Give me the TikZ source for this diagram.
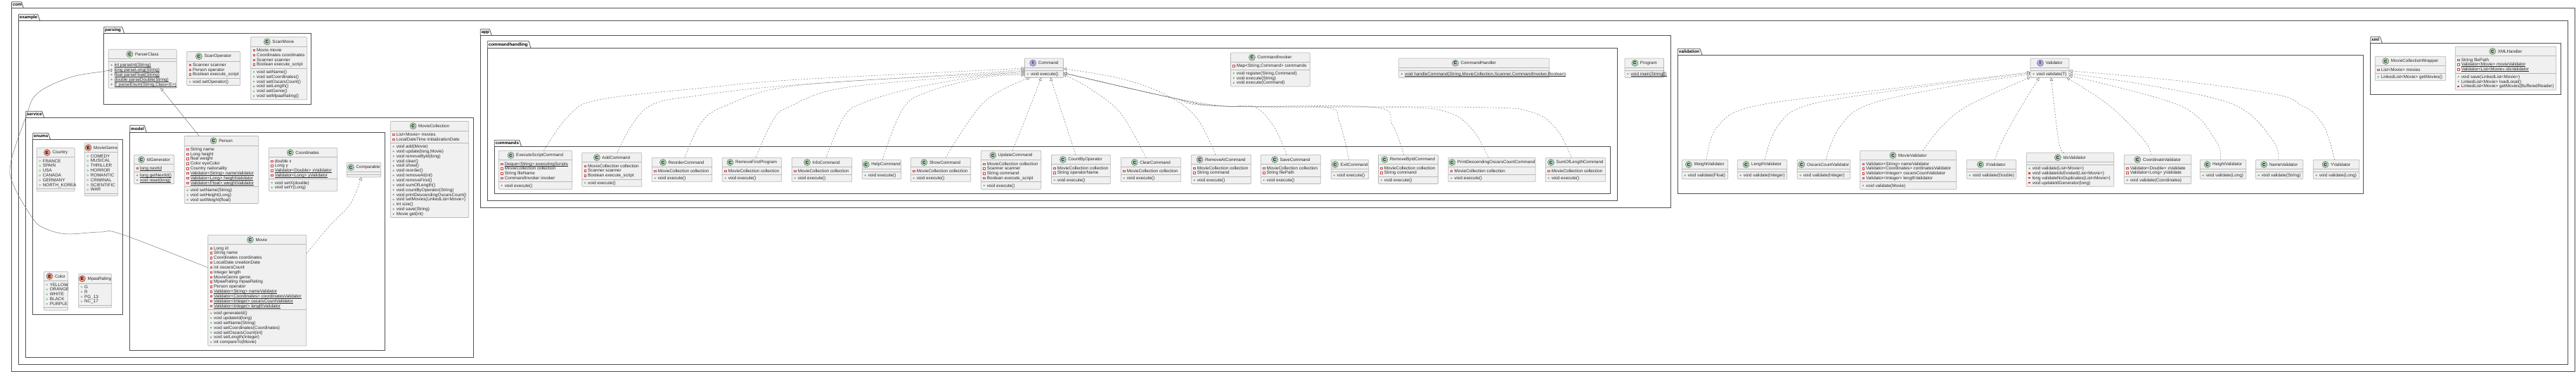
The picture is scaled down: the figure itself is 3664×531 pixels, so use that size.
\documentclass[tikz,border=0pt]{standalone}
\usepackage{fontspec}
\setmainfont{Liberation Sans}
\usetikzlibrary{arrows.meta}
\definecolor{iconC}{HTML}{ADD1B2}
\definecolor{iconE}{HTML}{EB937F}
\definecolor{iconI}{HTML}{B4A7E5}
\definecolor{txt}{HTML}{2A2A2A}
\newcommand\rowfont{\fontsize{6.3}{7}\selectfont}
\newcommand\titlefont{\fontsize{6.2}{7}\selectfont}
\tikzset{
 classbox/.style={draw=black!28,fill=black!6,rounded corners=1pt,line width=.7pt,inner sep=0,outer sep=0},
 classsep/.style={draw=black!28,line width=.6pt},
 rowtext/.style={inner sep=0,outer sep=0,text=txt,font=\rowfont},
 titletext/.style={inner sep=0,outer sep=0,text=txt,font=\titlefont},
 iconbase/.style={circle,draw=black!65,line width=.35pt,minimum size=9.2pt,inner sep=0,outer sep=0,text=black,font=\fontsize{6}{6}\selectfont\bfseries},
 fsq/.style={draw=red!70!black!70,line width=.4pt,fill=white},
 psq/.style={fill=red!80!black!75},
 mdot/.style={fill=green!45!black!55},
 edot/.style={draw=green!45!black!60,line width=.35pt,fill=white},
 pkgbody/.style={draw=black!68,line width=.8pt,inner sep=0,outer sep=0},
 pkgline/.style={draw=black!68,line width=.8pt,rounded corners=.8pt},
 pkglabel/.style={inner sep=0,outer sep=0,text=black,font=\fontsize{6.3}{7}\selectfont\bfseries},
 impl/.style={draw=black!52,line width=.5pt,dash pattern=on 2pt off 2pt,-{Triangle[length=4.5pt,width=4.6pt,fill=white]}},
 ext/.style={draw=black!52,line width=.5pt,-{Triangle[length=4.5pt,width=4.6pt,fill=white]}}
}
\newcount\rowcnt
\newcount\nrows
\newbox\ulbox
\newcommand\ulx[1]{\setbox\ulbox=\hbox{#1}\rlap{\raisebox{-.85pt}{\rule{\wd\ulbox}{.35pt}}}\box\ulbox}
\newcommand\cntItem[1]{\advance\nrows by 1\relax}
\newcommand\rowNode[1]{\global\advance\rowcnt by 1\relax
 \node[rowtext,anchor=base west] (row\the\rowcnt) at (\xTx,\rowpos+2.1) {#1};
 \pgfmathsetmacro\rowpos{\rowpos+6.85}}
\newcommand\drawF[1]{\draw[fsq] (\xIc,\rowpos) +(-1.2,-1.2) rectangle +(1.2,1.2); \rowNode{#1}}
\newcommand\drawFu[1]{\draw[fsq] (\xIc,\rowpos) +(-1.2,-1.2) rectangle +(1.2,1.2); \rowNode{\ulx{#1}}}
\newcommand\drawM[1]{\fill[mdot] (\xIc,\rowpos) circle[radius=1.3pt]; \rowNode{#1}}
\newcommand\drawMu[1]{\fill[mdot] (\xIc,\rowpos) circle[radius=1.3pt]; \rowNode{\ulx{#1}}}
\newcommand\drawPm[1]{\fill[psq] (\xIc,\rowpos) +(-1.4,-1.2) rectangle +(1.4,1.2); \rowNode{#1}}
\newcommand\drawEn[1]{\draw[edot] (\xIc,\rowpos) circle[radius=1.1pt]; \rowNode{#1}}
% name, kind, x1, y1, x2, title, fields, methods
\newcommand\umlclass[8]{%
 \begingroup
 \let\F\cntItem\let\Fu\cntItem\let\M\cntItem\let\Mu\cntItem\let\Pm\cntItem\let\En\cntItem
 \nrows=0 #7\relax
 \pgfmathsetmacro\hF{3.6+6.85*\the\nrows}%
 \nrows=0 #8\relax
 \pgfmathsetmacro\hM{3.6+6.85*\the\nrows}%
 \pgfmathsetmacro\wB{#5-#3}%
 \pgfmathsetmacro\hB{13.4+\hF+\hM}%
 \node[classbox,minimum width=\wB pt,minimum height=\hB pt,anchor=north west] (#1) at (#3,#4) {};
 \pgfmathsetmacro\yA{#4+13.4}%
 \pgfmathsetmacro\yB{\yA+\hF}%
 \draw[classsep] (#3,\yA) -- (#5,\yA);
 \draw[classsep] (#3,\yB) -- (#5,\yB);
 \node[titletext,anchor=center] (#1-title) at ({(#3+#5)/2+6.1},#4+6.7) {#6};
 \node[iconbase,fill=icon#2,anchor=east] (#1-icon) at ([xshift=-3pt]#1-title.west) {#2};
 \pgfmathsetmacro\xIc{#3+4.4}%
 \pgfmathsetmacro\xTx{#3+8.5}%
 \let\F\drawF\let\Fu\drawFu\let\M\drawM\let\Mu\drawMu\let\Pm\drawPm\let\En\drawEn
 \pgfmathsetmacro\rowpos{\yA+1.8+3.425}%
 #7\relax
 \pgfmathsetmacro\rowpos{\yB+1.8+3.425}%
 #8\relax
 \endgroup
}
% id, x1, tabtop, top, tabright, x2, y2, label
\newcommand\umlpkg[8]{%
 \begingroup
 \pgfmathsetmacro\wB{#6-#2}%
 \pgfmathsetmacro\hB{#7-#4}%
 \node[pkgbody,minimum width=\wB pt,minimum height=\hB pt,anchor=north west] (#1) at (#2,#4) {};
 \draw[pkgline] (#1.north west) -- (#2,#3) -- (#5-3,#3) -- (#5,#4);
 \node[pkglabel,anchor=base west] (#1-tab) at (#2+1.5,#4-2.9) {#8};
 \endgroup
}
\begin{document}
\begin{tikzpicture}[x=1pt,y=-1pt]
\useasboundingbox (0,0) rectangle (3664,531);
% packages
\umlpkg{pcom}{16.5}{2.7}{11.7}{33.5}{3662.7}{528.3}{com}
\umlpkg{pexample}{26.4}{20.3}{29.3}{56.7}{3652.3}{518.3}{example}
\umlpkg{pparsing}{147.7}{38.3}{47.3}{176.7}{442.3}{148.3}{parsing}
\umlpkg{pservice}{36.7}{158.3}{167.3}{62.7}{673.3}{508.3}{service}
\umlpkg{penums}{46.7}{189.3}{198.7}{71.7}{174.3}{447.3}{enums}
\umlpkg{pmodel}{184.7}{178.3}{188.3}{208.3}{547.3}{498.3}{model}
\umlpkg{papp}{683.3}{41.3}{50.3}{699.3}{2376.7}{295.3}{app}
\umlpkg{phandling}{693.3}{58.3}{68.3}{755}{2300.7}{285.3}{commandhandling}
\umlpkg{pcommands}{703.3}{199.3}{208.7}{741.7}{2290.7}{275.3}{commands}
\umlpkg{pvalidation}{2386.3}{69.3}{78.3}{2421}{3361.7}{275.3}{validation}
\umlpkg{pxml}{3371.7}{52.3}{61.3}{3388.3}{3642.3}{134.3}{xml}
% parsing
\umlclass{ParserClass}{C}{154.3}{70.3}{251.3}{ParserClass}{}{\Mu{int parseInt(String)}\Mu{long parseLong(String)}\Mu{float parseFloat(String)}\Mu{double parseDouble(String)}\Mu{E parseEnum(String,Class<E>)}}
\umlclass{ScanOperator}{C}{265.7}{73.5}{341.7}{ScanOperator}{\F{Scanner scanner}\F{Person operator}\F{Boolean execute\_script}}{\M{void setOperator()}}
\umlclass{ScanMovie}{C}{356.7}{52.7}{436.7}{ScanMovie}{\F{Movie movie}\F{Coordinates coordinates}\F{Scanner scanner}\F{Boolean execute\_script}}{\M{void setName()}\M{void setCoordinates()}\M{void setOscarsCount()}\M{void setLength()}\M{void setGenre()}\M{void setMpaaRating()}}
% enums
\umlclass{Country}{E}{52.3}{210.3}{106.3}{Country}{\En{FRANCE}\En{SPAIN}\En{USA}\En{CANADA}\En{GERMANY}\En{NORTH\_KOREA}}{}
\umlclass{MovieGenre}{E}{120.3}{203.3}{167.7}{MovieGenre}{\En{COMEDY}\En{MUSICAL}\En{THRILLER}\En{HORROR}\En{ROMANTIC}\En{CRIMINAL}\En{SCIENTIFIC}\En{WAR}}{}
\umlclass{Color}{E}{62.3}{386.3}{96.7}{Color}{\En{YELLOW}\En{ORANGE}\En{WHITE}\En{BLACK}\En{PURPLE}}{}
\umlclass{MpaaRating}{E}{111.7}{389.7}{158.7}{MpaaRating}{\En{G}\En{R}\En{PG\_13}\En{NC\_17}}{}
% model
\umlclass{IdGenerator}{C}{190.7}{220.3}{247.7}{IdGenerator}{\Fu{long nextId}}{\Mu{long getNextId()}\Mu{void reset(long)}}
\umlclass{Person}{C}{262.3}{193.5}{367.7}{Person}{\F{String name}\F{Long height}\F{float weight}\F{Color eyeColor}\F{Country nationality}\Fu{Validator<String> nameValidator}\Fu{Validator<Long> heightValidator}\Fu{Validator<Float> weightValidator}}{\M{void setName(String)}\M{void setHeight(Long)}\M{void setWeight(float)}}
\umlclass{Coordinates}{C}{382.3}{210.3}{479.7}{Coordinates}{\F{double x}\F{Long y}\Fu{Validator<Double> xValidator}\Fu{Validator<Long> yValidator}}{\M{void setX(double)}\M{void setY(Long)}}
\umlclass{Comparable}{C}{493.3}{231.3}{541.7}{Comparable}{}{}
\umlclass{Movie}{C}{295.7}{334.3}{435.7}{Movie}{\F{Long id}\F{String name}\F{Coordinates coordinates}\F{LocalDate creationDate}\F{int oscarsCount}\F{Integer length}\F{MovieGenre genre}\F{MpaaRating mpaaRating}\F{Person operator}\Fu{Validator<String> nameValidator}\Fu{Validator<Coordinates> coordinatesValidator}\Fu{Validator<Integer> oscarsCountValidator}\Fu{Validator<Integer> lengthValidator}}{\M{void generateId()}\M{void updateId(long)}\M{void setName(String)}\M{void setCoordinates(Coordinates)}\M{void setOscarsCount(int)}\M{void setLength(Integer)}\M{int compareTo(Movie)}}
\umlclass{MovieCollection}{C}{555.3}{172.5}{666.7}{MovieCollection}{\F{List<Movie> movies}\F{LocalDateTime initializationDate}}{\M{void add(Movie)}\M{void update(long,Movie)}\M{void removeById(long)}\M{void clear()}\M{void show()}\M{void reorder()}\M{void removeAt(int)}\M{void removeFirst()}\M{void sumOfLength()}\M{void countByOperator(String)}\M{void printDescendingOscarsCount()}\M{void setMovies(LinkedList<Movie>)}\M{int size()}\M{void save(String)}\M{Movie get(int)}}
% commandhandling
\umlclass{Command}{I}{1457.5}{83}{1512.5}{Command}{}{\M{void execute()}}
\umlclass{CommandInvoker}{C}{1750.4}{75}{1863.2}{CommandInvoker}{\F{Map<String,Command> commands}}{\M{void register(String,Command)}\M{void execute(String)}\M{void execute(Command)}}
\umlclass{CommandHandler}{C}{1989.6}{83}{2203.6}{CommandHandler}{}{\Mu{void handleCommand(String,MovieCollection,Scanner,CommandInvoker,Boolean)}}
\umlclass{Program}{C}{2311}{83}{2366.5}{Program}{}{\Mu{void main(String[])}}
% commands
\umlclass{ExecuteScriptCommand}{C}{709.3}{214.3}{813.7}{ExecuteScriptCommand}{\Fu{Deque<String> executingScripts}\F{MovieCollection collection}\F{String fileName}\F{CommandInvoker invoker}}{\M{void execute()}}
\umlclass{AddCommand}{C}{827.7}{217.3}{912.7}{AddCommand}{\F{MovieCollection collection}\F{Scanner scanner}\F{Boolean execute\_script}}{\M{void execute()}}
\umlclass{ReorderCommand}{C}{927.3}{224.3}{1012.7}{ReorderCommand}{\F{MovieCollection collection}}{\M{void execute()}}
\umlclass{RemoveFirstProgram}{C}{1027.3}{224.3}{1111.7}{RemoveFirstProgram}{\F{MovieCollection collection}}{\M{void execute()}}
\umlclass{InfoCommand}{C}{1126.3}{224.3}{1211.7}{InfoCommand}{\F{MovieCollection collection}}{\M{void execute()}}
\umlclass{HelpCommand}{C}{1226.3}{227.3}{1281.7}{HelpCommand}{}{\M{void execute()}}
\umlclass{ShowCommand}{C}{1295.3}{224.3}{1380.7}{ShowCommand}{\F{MovieCollection collection}}{\M{void execute()}}
\umlclass{UpdateCommand}{C}{1395.3}{214.3}{1480.7}{UpdateCommand}{\F{MovieCollection collection}\F{Scanner scanner}\F{String command}\F{Boolean execute\_script}}{\M{void execute()}}
\umlclass{CountByOperator}{C}{1495.4}{220.3}{1579.6}{CountByOperator}{\F{MovieCollection collection}\F{String operatorName}}{\M{void execute()}}
\umlclass{ClearCommand}{C}{1594.3}{224.3}{1679.6}{ClearCommand}{\F{MovieCollection collection}}{\M{void execute()}}
\umlclass{RemoveAtCommand}{C}{1694.3}{220.3}{1779.3}{RemoveAtCommand}{\F{MovieCollection collection}\F{String command}}{\M{void execute()}}
\umlclass{SaveCommand}{C}{1793.2}{220.3}{1878.6}{SaveCommand}{\F{MovieCollection collection}\F{String filePath}}{\M{void execute()}}
\umlclass{ExitCommand}{C}{1893.2}{227.3}{1946.8}{ExitCommand}{}{\M{void execute()}}
\umlclass{RemoveByIdCommand}{C}{1960.4}{220.3}{2045.4}{RemoveByIdCommand}{\F{MovieCollection collection}\F{String command}}{\M{void execute()}}
\umlclass{PrintCommand}{C}{2060}{224.3}{2184}{PrintDescendingOscarsCountCommand}{\F{MovieCollection collection}}{\M{void execute()}}
\umlclass{SumOfLengthCommand}{C}{2198.3}{224.3}{2283.7}{SumOfLengthCommand}{\F{MovieCollection collection}}{\M{void execute()}}
% validation
\umlclass{Validator}{I}{2888}{83}{2943}{Validator}{}{\M{void validate(T)}}
\umlclass{WeightValidator}{C}{2392.3}{227.3}{2457.7}{WeightValidator}{}{\M{void validate(Float)}}
\umlclass{LengthValidator}{C}{2471.3}{227.3}{2541.7}{LengthValidator}{}{\M{void validate(Integer)}}
\umlclass{OscarsCountValidator}{C}{2556.3}{227.3}{2631.7}{OscarsCountValidator}{}{\M{void validate(Integer)}}
\umlclass{MovieValidator}{C}{2645.7}{214.3}{2782.7}{MovieValidator}{\F{Validator<String> nameValidator}\F{Validator<Coordinates> cordinatesValidator}\F{Validator<Integer> oscarsCountValidator}\F{Validator<Integer> lengthValidator}}{\M{void validate(Movie)}}
\umlclass{XValidator}{C}{2797.3}{227.3}{2867.7}{XValidator}{}{\M{void validate(Double)}}
\umlclass{IdsValidator}{C}{2882.3}{217.3}{3006.7}{IdsValidator}{}{\M{void validate(List<Movie>)}\Pm{void validateIdsExisted(List<Movie>)}\Pm{long validateNoDuplicates(List<Movie>)}\Pm{void updateIdGenerator(long)}}
\umlclass{CoordinateValidator}{C}{3021.3}{220.3}{3116.7}{CoordinateValidator}{\F{Validator<Double> xValidate}\F{Validator<Long> yValidate}}{\M{void validate(Coordinates)}}
\umlclass{HeightValidator}{C}{3129.3}{227.3}{3194.7}{HeightValidator}{}{\M{void validate(Long)}}
\umlclass{NameValidator}{C}{3208.3}{227.3}{3275.7}{NameValidator}{}{\M{void validate(String)}}
\umlclass{YValidator}{C}{3290.3}{227.3}{3355.7}{YValidator}{}{\M{void validate(Long)}}
% xml
\umlclass{MovieCollectionWrapper}{C}{3378.3}{80.3}{3478.7}{MovieCollectionWrapper}{\F{List<Movie> movies}}{\M{LinkedList<Movie> getMovies()}}
\umlclass{XMLHandler}{C}{3492.3}{66.3}{3635.7}{XMLHandler}{\F{String filePath}\Fu{Validator<Movie> movieValidator}\Fu{Validator<List<Movie>> idsValidator}}{\M{void save(LinkedList<Movie>)}\M{LinkedList<Movie> loadLocal()}\Pm{LinkedList<Movie> getMovies(BufferedReader)}}
% connectors: model
\draw[ext] plot[smooth,tension=.6] coordinates {([yshift=32.4pt]Movie.west) (173.3,333.3) (143,330) (93,332.7) (60,323) (45,308.3) (20,265) (15,233) (36.7,166.7) (53,133) (100,110) (146.7,101.7) ([yshift=-2.3pt]ParserClass.west)};
\draw[ext] ([xshift=-31.7pt]Person.north) -- ([xshift=25.5pt]ParserClass.south);
\draw[impl] plot[smooth,tension=.6] coordinates {([yshift=52.4pt]Movie.east) (470,320) (498.3,290) ([xshift=-3.5pt]Comparable.south)};
% connectors: commands
\draw[impl] plot[smooth,tension=.6] coordinates {([xshift=11.8pt]ExecuteScriptCommand.north) (810,163.3) (853.3,141.7) (1000,125) (1133,113.3) (1400,100) ([yshift=0pt]Command.west)};
\draw[impl] plot[smooth,tension=.6] coordinates {([xshift=7.5pt]AddCommand.north) (920,153.3) (1000,135) (1133,120.7) (1400,103.3) ([yshift=-2pt]Command.west)};
\draw[impl] plot[smooth,tension=.6] coordinates {([xshift=4pt]ReorderCommand.north) (997,175) (1033,150) (1133,121.7) (1400,105) ([yshift=-4pt]Command.west)};
\draw[impl] plot[smooth,tension=.6] coordinates {([xshift=5.5pt]RemoveFirstProgram.north) (1100,170) (1123,151.7) (1200,125) (1400,106.7) ([yshift=-6pt]Command.west)};
\draw[impl] plot[smooth,tension=.6] coordinates {([xshift=6pt]InfoCommand.north) (1200,166.7) (1226.7,146.7) (1300,125) (1400,108) ([yshift=-8pt]Command.west)};
\draw[impl] plot[smooth,tension=.6] coordinates {([xshift=1pt]HelpCommand.north) (1283,156.7) (1316.7,131.7) (1400,110) ([yshift=-10pt]Command.west)};
\draw[impl] plot[smooth,tension=.6] coordinates {([xshift=7pt]ShowCommand.north) (1400,145) ([xshift=-20pt]Command.south)};
\draw[impl] plot[smooth,tension=.6] coordinates {([xshift=2pt]UpdateCommand.north) (1462,160) ([xshift=-4pt]Command.south)};
\draw[impl] plot[smooth,tension=.6] coordinates {([xshift=-7.5pt]CountByOperator.north) (1501.4,133) ([xshift=9.3pt]Command.south)};
\draw[impl] plot[smooth,tension=.6] coordinates {([xshift=-7pt]ClearCommand.north) (1594.3,161.7) (1551.4,126.7) ([yshift=-9pt]Command.east)};
\draw[impl] plot[smooth,tension=.6] coordinates {([xshift=-7.8pt]RemoveAtCommand.north) (1701.4,166.7) (1658.6,135) (1594.3,111.7) ([yshift=-1pt]Command.east)};
\draw[impl] plot[smooth,tension=.6] coordinates {([xshift=-6pt]SaveCommand.north) (1812,180) (1783.6,151.7) (1740.7,151) (1662,138) ([yshift=-7pt]Command.east)};
\draw[impl] plot[smooth,tension=.6] coordinates {([xshift=-1.4pt]ExitCommand.north) (1905,173) (1883.6,152.3) (1740.7,151) (1662,138) ([yshift=-7pt]Command.east)};
\draw[impl] plot[smooth,tension=.6] coordinates {([xshift=-6pt]RemoveByIdCommand.north) (1980,176.7) (1951.4,152.3) (1740.7,151) (1662,138) ([yshift=-7pt]Command.east)};
\draw[impl] plot[smooth,tension=.6] coordinates {([xshift=-5pt]PrintCommand.north) (2095,185) (2060,160) (1990,152.5) (1740.7,151) (1662,138) ([yshift=-7pt]Command.east)};
\draw[impl] plot[smooth,tension=.6] coordinates {([xshift=-6pt]SumOfLengthCommand.north) (2215,185) (2180,160) (2100,152.5) (1740.7,151) (1662,138) ([yshift=-7pt]Command.east)};
% connectors: validators
\draw[impl] plot[smooth,tension=.6] coordinates {([xshift=2pt]WeightValidator.north) (2443,180) (2500,150) (2700,125) ([yshift=-6pt]Validator.west)};
\draw[impl] plot[smooth,tension=.6] coordinates {([xshift=3.5pt]LengthValidator.north) (2528,180) (2570,150) (2700,128) ([yshift=-7pt]Validator.west)};
\draw[impl] plot[smooth,tension=.6] coordinates {([xshift=3pt]OscarsCountValidator.north) (2617,180) (2660,148) (2780,122) ([yshift=-9pt]Validator.west)};
\draw[impl] plot[smooth,tension=.6] coordinates {([xshift=20.8pt]MovieValidator.north) (2761.7,180) (2800,150) ([yshift=-13pt]Validator.west)};
\draw[impl] plot[smooth,tension=.6] coordinates {([xshift=5pt]XValidator.north) (2848,200) (2870,160) ([xshift=-15pt]Validator.south)};
\draw[impl] plot[smooth,tension=.6] coordinates {([xshift=-8.8pt]IdsValidator.north) (2928,200) ([xshift=2pt]Validator.south)};
\draw[impl] plot[smooth,tension=.6] coordinates {([xshift=-10pt]CoordinateValidator.north) (3050,200) (3000,150) ([xshift=24pt]Validator.south)};
\draw[impl] plot[smooth,tension=.6] coordinates {([xshift=-4pt]HeightValidator.north) (3151.7,200) (3100,150) ([yshift=-11pt]Validator.east)};
\draw[impl] plot[smooth,tension=.6] coordinates {([xshift=-1.3pt]NameValidator.north) (3233,200) (3180,150) (3060,122) ([yshift=-8pt]Validator.east)};
\draw[impl] plot[smooth,tension=.6] coordinates {([xshift=-2.3pt]YValidator.north) (3308,185) (3290,160) (3273,150) (3240,135) (3100,115) ([yshift=-4pt]Validator.east)};
\end{tikzpicture}
\end{document}
